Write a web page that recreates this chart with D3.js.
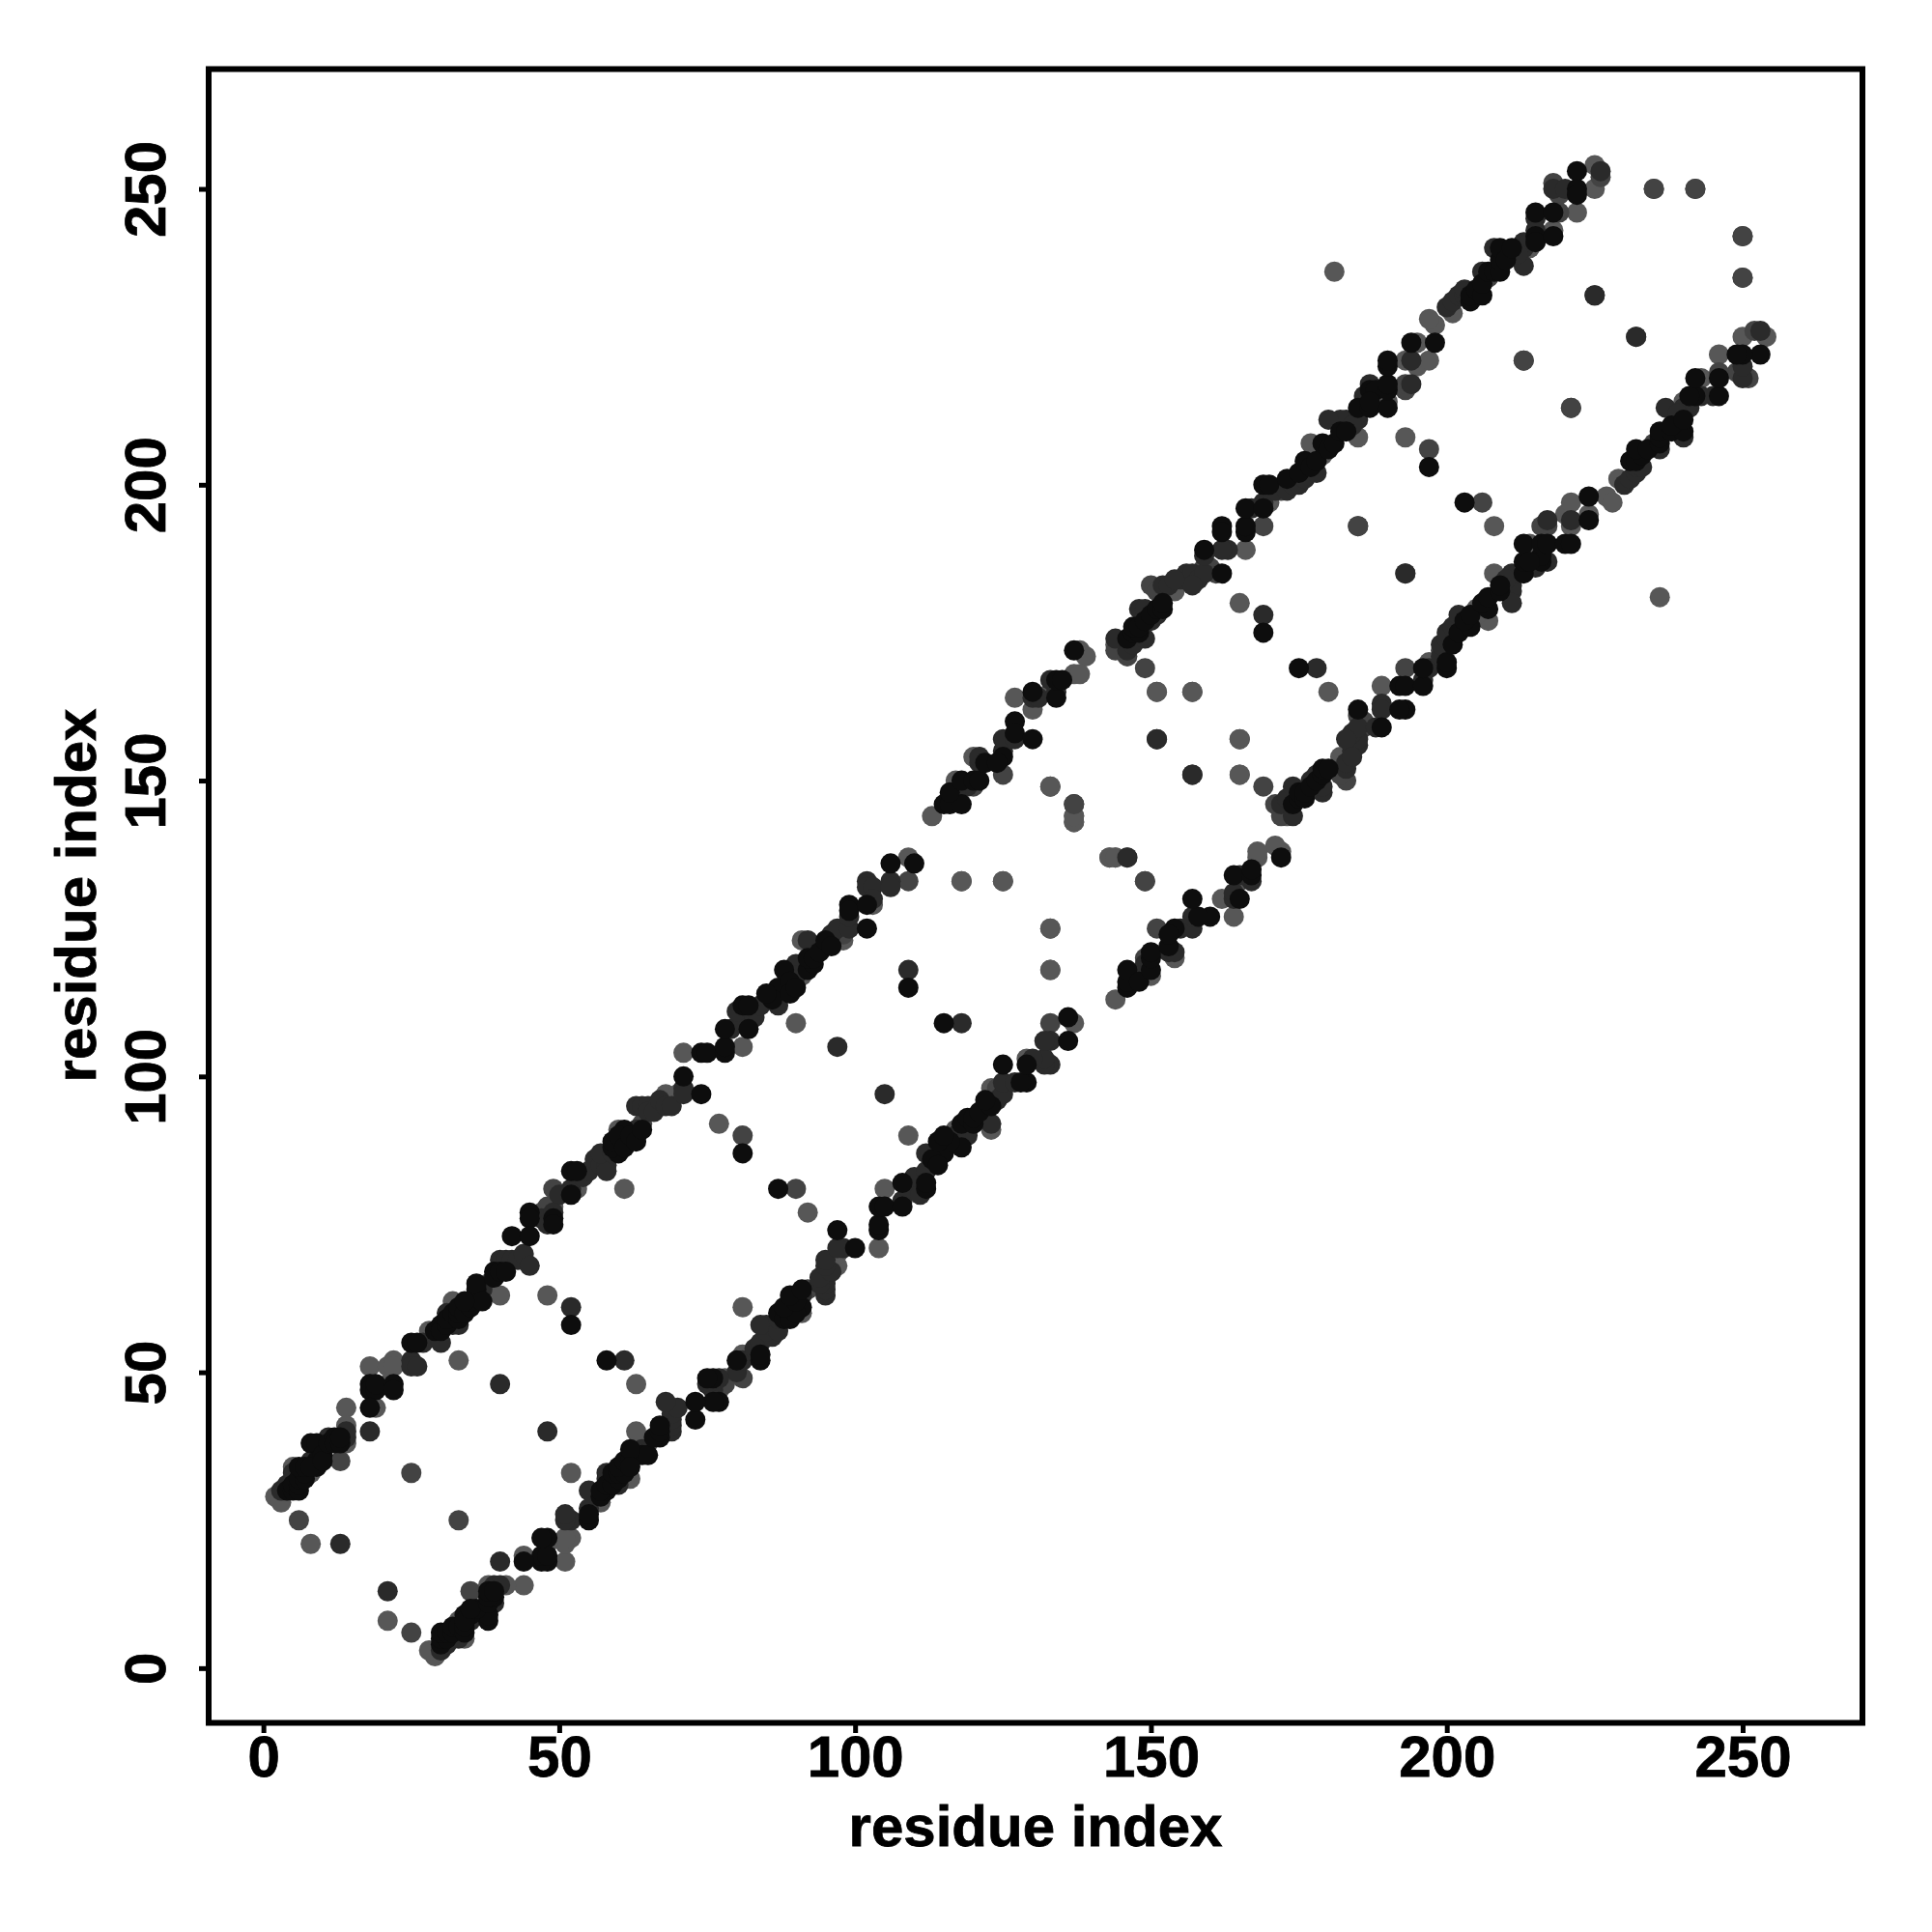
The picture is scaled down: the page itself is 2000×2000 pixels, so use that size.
<!DOCTYPE html>
<html><head><meta charset="utf-8">
<script src="https://cdn.jsdelivr.net/npm/d3@7/dist/d3.min.js"></script>
<style>html,body{margin:0;background:#fff}svg{display:block}</style></head>
<body><div id="chart"></div>
<script>
const tickValues=[0,50,100,150,200,250];
const axisTitle="residue index";
// contact pairs [i,j] (the map is symmetric: each pair is drawn at (i,j) and (j,i)), grouped by shade
const contactsBlack=[[4,30],[5,30],[5,31],[6,30],[6,31],[6,32],[7,32],[7,33],[6,34],[7,34],[8,38],[9,38],[9,35],[9,34],[8,34],[10,36],[10,35],[11,38],[12,39],[12,38],[13,38],[13,39],[18,48],[18,47],[19,47],[19,48],[18,44],[22,48],[22,47],[25,55],[26,55],[29,57],[30,58],[30,57],[31,58],[31,59],[32,60],[33,59],[33,60],[33,61],[34,60],[35,61],[35,62],[36,63],[36,64],[36,65],[37,62],[34,62],[39,67],[39,66],[40,67],[41,67],[42,73],[45,77],[45,76],[45,73],[49,76],[49,75],[52,80],[52,84],[53,84],[60,87],[59,88],[59,89],[61,91],[60,90],[61,88],[62,90],[63,89],[64,91],[52,58],[71,100],[74,97],[74,104],[75,104],[78,104],[78,105],[78,108],[82,108],[81,112],[82,112],[87,115],[86,113],[85,114],[88,118],[89,116],[89,114],[90,115],[92,118],[93,119],[92,120],[93,120],[94,121],[95,123],[96,122],[81,87],[109,115],[99,129],[99,128],[102,129],[102,125],[106,136],[110,136],[115,146],[116,146],[118,146],[116,148],[118,150],[120,150],[121,150],[122,153],[125,154],[124,153],[127,160],[127,158],[130,157],[130,165],[134,164],[134,167],[135,167],[137,172],[146,174],[147,175],[148,175],[147,176],[148,176],[149,177],[150,178],[151,179],[152,179],[152,180],[162,185],[159,189],[162,193],[162,192],[166,192],[166,193],[166,196],[169,196],[169,200],[170,200],[173,201],[175,202],[176,204],[177,203],[178,204],[179,207],[180,206],[169,175],[197,203],[181,207],[182,209],[183,209],[185,213],[187,216],[188,216],[187,213],[190,213],[190,216],[190,217],[187,214],[190,220],[190,221],[194,224],[198,224],[204,231],[204,232],[205,233],[206,232],[206,234],[207,236],[208,236],[209,236],[209,238],[209,240],[210,238],[211,240],[215,246],[215,242],[215,241],[218,246],[218,242],[222,253],[222,250],[222,249]];
const contactsDark=[[3,30],[4,31],[5,33],[6,33],[8,35],[9,36],[9,37],[10,38],[11,39],[14,39],[14,40],[13,21],[18,40],[25,52],[25,51],[26,51],[27,55],[30,55],[32,58],[33,58],[31,60],[34,61],[37,64],[40,69],[41,69],[42,69],[43,69],[44,70],[40,48],[45,68],[52,61],[50,80],[52,81],[47,76],[48,75],[49,77],[53,83],[54,83],[55,84],[56,86],[57,85],[58,85],[58,84],[57,87],[59,87],[63,91],[63,95],[64,95],[65,95],[65,94],[66,94],[67,96],[68,95],[69,95],[71,98],[71,97],[79,108],[81,109],[80,111],[83,110],[84,112],[87,112],[88,115],[89,117],[90,119],[90,117],[92,123],[96,124],[97,125],[99,125],[99,127],[97,105],[102,133],[102,132],[103,132],[106,133],[106,132],[109,118],[119,149],[117,148],[121,153],[121,154],[125,155],[125,157],[127,157],[130,164],[131,164],[133,167],[134,165],[137,146],[151,157],[146,172],[147,173],[144,174],[149,174],[150,177],[148,179],[149,179],[151,178],[152,183],[153,183],[155,184],[156,185],[157,185],[158,184],[159,185],[159,188],[157,183],[154,184],[163,189],[162,189],[167,196],[169,178],[169,197],[171,199],[173,199],[174,200],[175,200],[176,201],[178,202],[183,211],[182,211],[180,211],[185,211],[185,212],[184,210],[187,217],[186,215],[194,217],[194,221],[185,193],[200,230],[201,231],[202,232],[203,232],[203,233],[205,232],[206,236],[208,240],[209,237],[213,241],[213,240],[214,241],[213,237],[215,245],[215,243],[218,250],[220,250],[226,253],[225,232],[232,225],[157,151],[103,130],[212,239]];
const contactsMid=[[6,25],[13,35],[25,33],[49,81],[48,78],[64,92],[67,95],[66,95],[81,90],[91,118],[94,122],[98,124],[109,133],[125,151],[133,149],[146,137],[120,149],[144,172],[146,171],[149,169],[150,183],[151,182],[159,186],[160,186],[161,185],[169,193],[172,199],[193,216],[197,206],[193,217],[193,185],[213,221],[221,213],[235,250],[242,250],[250,242],[250,235],[207,235],[219,249],[219,246],[218,251],[226,252]];
const contactsLight=[[2,29],[3,28],[5,34],[8,33],[14,44],[14,41],[14,38],[8,21],[18,51],[19,44],[21,51],[22,52],[22,51],[21,48],[28,57],[32,62],[38,65],[40,63],[33,52],[48,63],[47,77],[49,78],[53,81],[61,81],[60,91],[63,90],[68,97],[70,97],[71,104],[81,105],[77,92],[90,109],[91,117],[91,123],[98,125],[98,123],[103,129],[109,137],[118,133],[125,133],[113,144],[117,150],[120,154],[127,164],[130,162],[133,165],[137,143],[137,144],[133,125],[133,118],[143,137],[144,137],[151,165],[157,165],[165,157],[165,151],[138,172],[139,171],[137,168],[138,168],[144,173],[154,182],[165,180],[166,189],[170,197],[177,207],[179,205],[185,208],[193,208],[190,214],[193,221],[195,220],[197,221],[195,224],[198,227],[197,228],[201,229],[214,240],[218,243],[222,246],[225,250],[225,254],[181,236],[178,205],[149,133]];

// lightest first, so that the dark contacts sit on top
const shades=[{list:contactsLight,fill:"#575757"},{list:contactsMid,fill:"#434343"},{list:contactsDark,fill:"#2a2a2a"},{list:contactsBlack,fill:"#0d0d0d"}];
const points=shades.flatMap(s=>s.list.map(p=>({i:p[0],j:p[1],fill:s.fill})));

const x=d3.scaleLinear().domain([-9.25,270.25]).range([216,1928]);
const y=d3.scaleLinear().domain([-9.25,270.25]).range([1783.5,71.5]);
const svg=d3.select("#chart").append("svg").attr("width",2000).attr("height",2000);
const font="'Liberation Sans',Arial,sans-serif";

const dots=svg.append("g");
dots.selectAll(".u").data(points).join("circle").attr("cx",d=>x(d.i)).attr("cy",d=>y(d.j)).attr("r",10.5).attr("fill",d=>d.fill);
dots.selectAll(".l").data(points,(d,n)=>"m"+n).join("circle").attr("cx",d=>x(d.j)).attr("cy",d=>y(d.i)).attr("r",10.5).attr("fill",d=>d.fill);

const ax=svg.append("g").attr("transform","translate(0,1784)").call(d3.axisBottom(x).tickValues(tickValues).tickSize(10));
const ay=svg.append("g").attr("transform","translate(216,0)").call(d3.axisLeft(y).tickValues(tickValues).tickSize(10));
[ax,ay].forEach(a=>{a.select(".domain").remove();a.selectAll("line").attr("stroke","#000").attr("stroke-width",5);
 a.selectAll("text").attr("font-family",font).attr("font-weight","bold").attr("font-size",60).attr("fill","#000").attr("stroke","#000").attr("stroke-width",0.8);});
ax.selectAll("text").attr("dy",null).attr("text-anchor","middle").attr("y",55);
ay.selectAll("text").attr("dy",null).attr("x",null).attr("text-anchor","middle").attr("transform","translate(-45,0) rotate(-90)");

svg.append("rect").attr("x",216).attr("y",71.5).attr("width",1712).attr("height",1712).attr("fill","none").attr("stroke","#000").attr("stroke-width",6);
svg.append("text").attr("x",1072).attr("y",1911).attr("text-anchor","middle").attr("font-family",font).attr("font-weight","bold").attr("font-size",60).attr("stroke","#000").attr("stroke-width",0.8).text(axisTitle);
svg.append("text").attr("transform","translate(99,927) rotate(-90)").attr("text-anchor","middle").attr("font-family",font).attr("font-weight","bold").attr("font-size",60).attr("stroke","#000").attr("stroke-width",0.8).text(axisTitle);
</script></body></html>
